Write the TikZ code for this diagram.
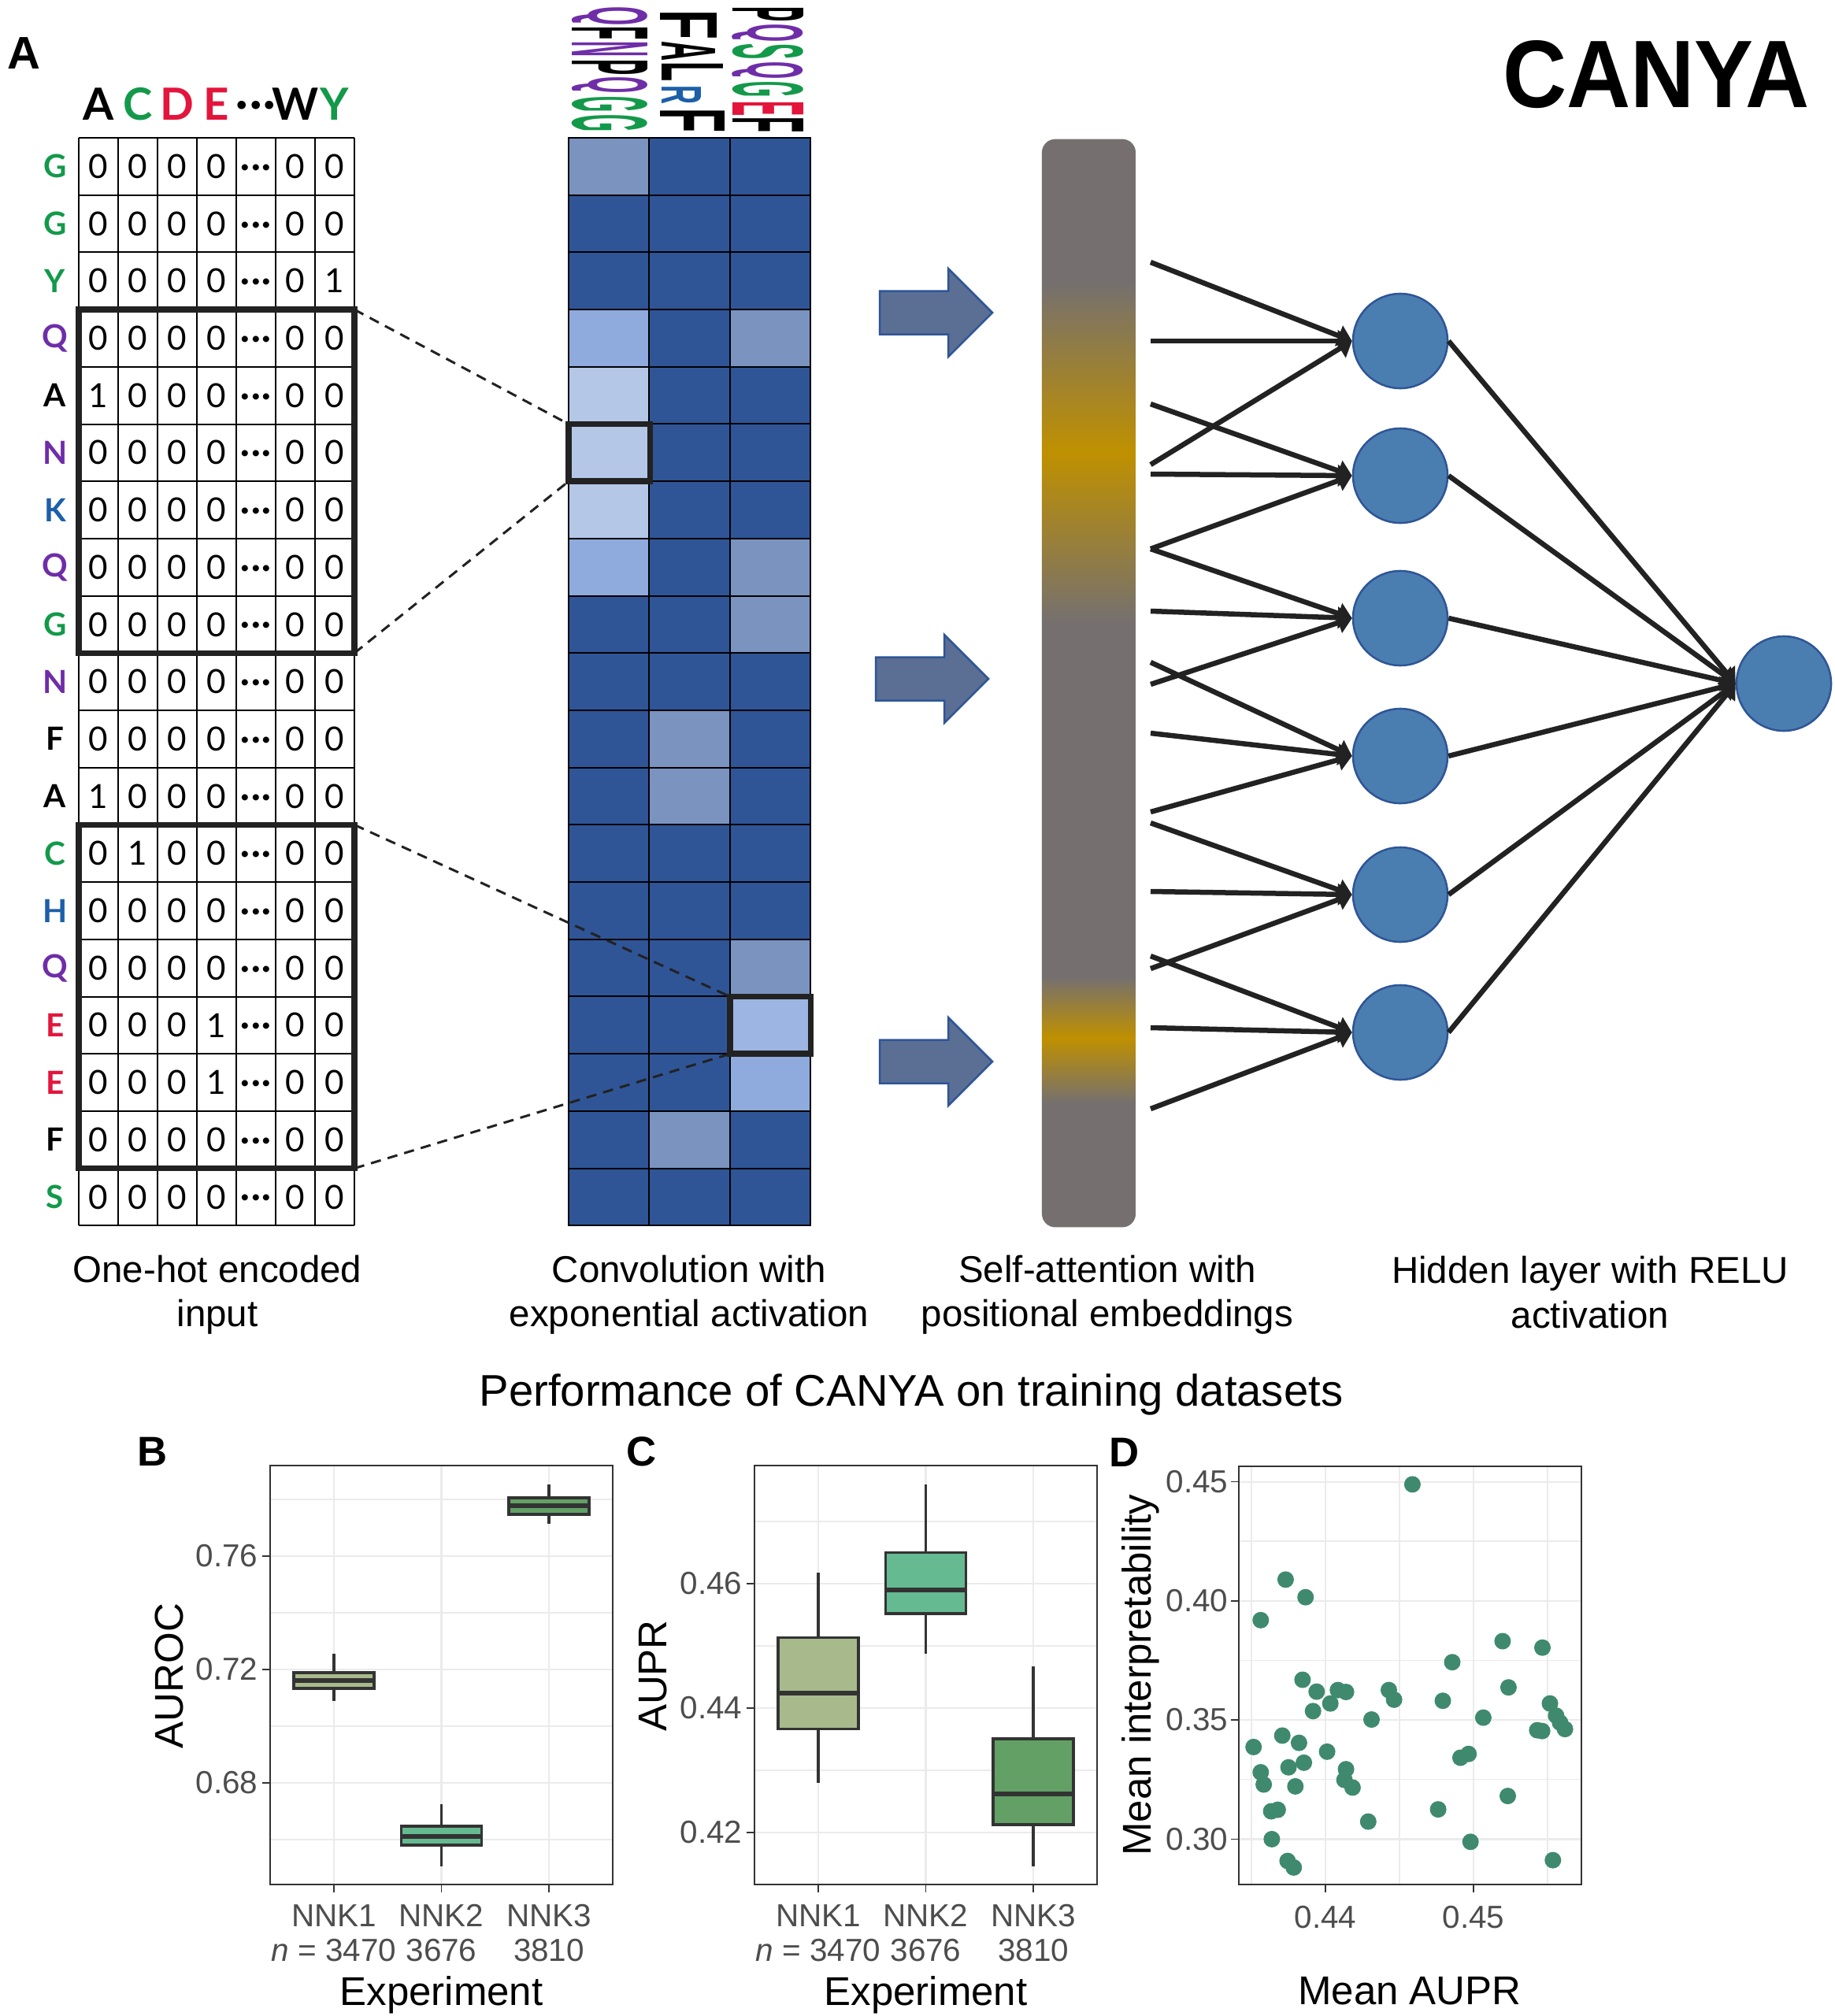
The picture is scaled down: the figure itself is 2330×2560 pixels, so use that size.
\documentclass[tikz,border=0pt]{standalone}
\usepackage{fontspec}
\setmainfont{Liberation Sans}
\newfontfamily\latof{Lato}
\usepackage{graphicx}
\usetikzlibrary{arrows.meta}
\definecolor{gG}{HTML}{13994A}
\definecolor{gP}{HTML}{6F2DA8}
\definecolor{gR}{HTML}{E3153C}
\definecolor{gB}{HTML}{1D5FA8}
\definecolor{hD}{HTML}{2F5597}
\definecolor{hM}{HTML}{7B93BF}
\definecolor{hML}{HTML}{8FAADC}
\definecolor{hMK}{HTML}{9DB5E3}
\definecolor{hL}{HTML}{B4C7E7}
\definecolor{nodeC}{HTML}{4A7EB0}
\definecolor{nodeB}{HTML}{2F5597}
\definecolor{arrF}{HTML}{5A6F93}
\definecolor{arrB}{HTML}{2F5597}
\definecolor{barG}{HTML}{75706F}
\definecolor{barY}{HTML}{BF9000}
\definecolor{bxA}{HTML}{A8BA8C}
\definecolor{bxB}{HTML}{65BA91}
\definecolor{bxC}{HTML}{62A065}
\definecolor{dotC}{HTML}{3F8A6E}
\definecolor{gridC}{HTML}{EBEBEB}
\definecolor{axC}{HTML}{333333}
\definecolor{tkC}{HTML}{4D4D4D}
\definecolor{lineC}{HTML}{222222}
\newdimen\pxu \pxu=0.01cm
\pgfdeclareverticalshading{barshade}{100bp}{color(0bp)=(barG); color(30.7bp)=(barG); color(33.7bp)=(barY); color(36.5bp)=(barG); color(52.8bp)=(barG); color(60.6bp)=(barY); color(68.4bp)=(barG); color(100bp)=(barG)}
\newcommand\mydots{\bfseries ·\kern0.6pt·\kern0.6pt·}
\newcommand\blkarrow[2]{\draw[blk] (#1,#2-27.5) -- (#1+87,#2-27.5) -- (#1+87,#2-56) -- (#1+143,#2) -- (#1+87,#2+56) -- (#1+87,#2+27.5) -- (#1,#2+27.5) -- cycle;}
\begin{document}
\begin{tikzpicture}[x=0.01cm,y=-0.01cm,
  cellnum/.style={font=\latof\fontsize{12}{12}\selectfont, inner sep=0},
  rowlab/.style={font=\latof\bfseries\fontsize{11.5}{11.5}\selectfont, inner sep=0},
  hdrlab/.style={font=\latof\bfseries\fontsize{16}{16}\selectfont, inner sep=0},
  thinline/.style={line width=0.02cm, black},
  boldbox/.style={line width=0.075cm, lineC},
  dashc/.style={dash pattern=on 0.13cm off 0.09cm, line width=0.03cm, lineC},
  hcell/.style={draw=black, line width=0.02cm, minimum width=1.023cm, minimum height=0.727cm, inner sep=0, outer sep=0},
  hnode/.style={circle, fill=nodeC, draw=nodeB, line width=0.025cm, minimum size=1.2cm, inner sep=0},
  conn/.style={line width=0.065cm, lineC, -{Triangle[length=0.18cm,width=0.27cm]}},
  blk/.style={fill=arrF, draw=arrB, line width=0.025cm, line join=miter},
  lab/.style={align=center, font=\fontsize{13.5}{16}\selectfont, inner sep=0},
  panlab/.style={font=\bfseries\fontsize{15}{15}\selectfont, inner sep=0},
  gmajor/.style={gridC, line width=0.022cm},
  gminor/.style={gridC, line width=0.011cm},
  frm/.style={axC, line width=0.016cm},
  tck/.style={axC, line width=0.016cm},
  whisk/.style={axC, line width=0.035cm},
  bxs/.style={draw=axC, line width=0.035cm},
  medl/.style={axC, line width=0.06cm},
  ticklab/.style={text=tkC, font=\fontsize{11.5}{13}\selectfont, inner sep=0},
  axtitle/.style={font=\fontsize{14.5}{16}\selectfont, inner sep=0},
  dotp/.style={fill=dotC}]
\useasboundingbox (0,0) rectangle (2330,2560);
\fill[white] (0,0) rectangle (2330,2560);

% ---------- panel A label and title
\node[font=\bfseries\fontsize{16.5}{16.5}\selectfont, inner sep=0] (pA) at (30,68) {A};
\node[inner sep=0] (canya) at (2103,95) {\resizebox{3.89cm}{0.85cm}{\bfseries CANYA}};

% ---------- one-hot grid
\foreach \k/\t/\c in {1/A/black,2/C/gG,3/D/gR,4/E/gR,6/W/black,7/Y/gG}
  \node[hdrlab,text=\c] (hd\k) at ({100+(\k-0.5)*50},132) {\t};
\node[hdrlab, anchor=base] (hd5) at (325,150) {\mydots};
\foreach \r/\l/\c/\p in {1/G/gG/0,2/G/gG/0,3/Y/gG/7,4/Q/gP/0,5/A/black/1,6/N/gP/0,7/K/gB/0,8/Q/gP/0,9/G/gG/0,10/N/gP/0,11/F/black/0,12/A/black/1,13/C/gG/2,14/H/gB/0,15/Q/gP/0,16/E/gR/4,17/E/gR/4,18/F/black/0,19/S/gG/0}{
  \pgfmathsetmacro\yc{175+(\r-0.5)*72.7}
  \node[rowlab,text=\c] (rl\r) at (70,\yc) {\l};
  \foreach \k in {1,2,3,4,6,7}{
    \pgfmathtruncatemacro\v{(\k==\p)?1:0}
    \node[cellnum] (c\r-\k) at ({100+(\k-0.5)*50},\yc) {\v};
  }
  \node[cellnum, anchor=base] (c\r-5) at (325,\yc+14) {\mydots};
}
\foreach \k in {0,...,7} \draw[thinline] ({100+50*\k},175) -- ({100+50*\k},1556.3);
\foreach \r in {0,...,19} \draw[thinline] (100,{175+72.7*\r}) -- (450,{175+72.7*\r});
\draw[boldbox] (100,393.1) rectangle (450,829.3);
\draw[boldbox] (100,1047.4) rectangle (450,1483.6);

% ---------- heatmap
\foreach \r/\hA/\hB/\hC in {1/hM/hD/hD,2/hD/hD/hD,3/hD/hD/hD,4/hML/hD/hM,5/hL/hD/hD,6/hL/hD/hD,7/hL/hD/hD,8/hML/hD/hM,9/hD/hD/hM,10/hD/hD/hD,11/hD/hM/hD,12/hD/hM/hD,13/hD/hD/hD,14/hD/hD/hD,15/hD/hD/hM,16/hD/hD/hMK,17/hD/hD/hML,18/hD/hM/hD,19/hD/hD/hD}{
  \pgfmathsetmacro\yc{175+(\r-0.5)*72.7}
  \node[hcell, fill=\hA] (hm\r-1) at (773.15,\yc) {};
  \node[hcell, fill=\hB] (hm\r-2) at (875.5,\yc) {};
  \node[hcell, fill=\hC] (hm\r-3) at (977.8,\yc) {};
}
\draw[boldbox] (722,538.5) rectangle (825.5,611.2);
\draw[boldbox] (927,1265.5) rectangle (1029.5,1338.2);

% ---------- dashed zoom connectors
\coordinate (g1a) at (450,393.1); \coordinate (g1b) at (450,829.3);
\coordinate (k1a) at (722,538.5); \coordinate (k1b) at (722,611.2);
\coordinate (g2a) at (450,1047.4); \coordinate (g2b) at (450,1483.6);
\coordinate (k2a) at (927,1265.5); \coordinate (k2b) at (927,1338.2);
\draw[dashc] (g1a) -- (k1a);
\draw[dashc] (g1b) -- (k1b);
\draw[dashc] (g2a) -- (k2a);
\draw[dashc] (g2b) -- (k2b);

% ---------- sequence logos (rotated)
\foreach \x/\y/\w/\h/\c/\l [count=\i] in {774/20/24/96/gP/Q, 774/41.5/17/96/black/F, 774/62/20/96/gP/N, 774/85/20/96/black/P, 774/107.5/21/96/gP/Q, 774/132/20/96/gG/G, 774/156/22/96/gG/G,
  874/31/38/72/black/F, 874/64.5/25/68/black/A, 879/90.5/25/78/black/L, 865/120/24/50/gB/R, 879/152.5/31/82/black/F,
  975/17.5/19/90/black/P, 975/41.5/23/90/gP/Q, 975/65/20/90/gG/S, 975/89/22/90/gP/Q, 975/113/20/90/gG/G, 975/137.5/19/90/gR/E, 975/158/20/90/black/F}
  \node[rotate=-90, inner sep=0, text=\c] (lg\i) at (\x,\y) {\resizebox*{\w\pxu}{\h\pxu}{\bfseries \l}};

% ---------- block arrows
\blkarrow{1117}{397}
\blkarrow{1112}{862}
\blkarrow{1117}{1348}

% ---------- self-attention bar
\node[shade, shading=barshade, rounded corners=0.17cm, minimum width=1.19cm, minimum height=13.81cm, inner sep=0] (bar) at (1382.5,867.5) {};

% ---------- hidden layer
\foreach \i/\yy in {1/433,2/604,3/785,4/960,5/1136,6/1311}
  \node[hnode] (h\i) at (1778,\yy) {};
\node[hnode] (out) at (2265,868) {};
\foreach \i/\yy in {1/333,2/433,3/513,4/590,5/602,6/697,7/776,8/841,9/869,10/931,11/1031,12/1045,13/1132,14/1214,15/1230,16/1305,17/1408}
  \coordinate (s\i) at (1461,\yy);
\foreach \s/\t in {1/1,2/1,4/1,3/2,5/2,6/2,6/3,7/3,9/3,8/4,10/4,11/4,12/5,13/5,15/5,14/6,16/6,17/6}
  \draw[conn] (s\s) -- (h\t.west);
\foreach \i in {1,...,6}
  \draw[conn] (h\i.east) -- (out.west);

% ---------- step labels
\node[lab] (lab1) at (276,1644) {One-hot encoded\\input};
\node[lab] (lab2) at (875,1644) {Convolution with\\exponential activation};
\node[lab] (lab3) at (1406,1644) {Self-attention with\\positional embeddings};
\node[lab] (lab4) at (2019,1641) {Hidden layer with RELU\\activation};
\node[font=\fontsize{16}{18}\selectfont, inner sep=0] (perf) at (1157,1771) {Performance of CANYA on training datasets};

% ---------- panel letters
\node[panlab] (pB) at (194,1843) {B};
\node[panlab] (pC) at (815,1843) {C};
\node[panlab] (pD) at (1428,1844) {D};

% ---------- panel B
\foreach \yy in {1904,2048,2192,2336} \draw[gminor] (343,\yy) -- (778,\yy);
\foreach \yy in {1976,2120,2264} \draw[gmajor] (343,\yy) -- (778,\yy);
\foreach \xx in {424,560.5,697} \draw[gmajor] (\xx,1861) -- (\xx,2393);
\draw[whisk] (424,2099.5) -- (424,2160);
\draw[bxs, fill=bxA] (373,2124) rectangle (475,2144);
\draw[medl] (373,2134) -- (475,2134);
\draw[whisk] (560.5,2291) -- (560.5,2370);
\draw[bxs, fill=bxB] (509.5,2319) rectangle (611.5,2343);
\draw[medl] (509.5,2332) -- (611.5,2332);
\draw[whisk] (697,1885) -- (697,1935);
\draw[bxs, fill=bxC] (646,1902) rectangle (748,1923);
\draw[medl] (646,1912) -- (748,1912);
\draw[frm] (343,1861) rectangle (778,2393);
\foreach \yy/\t [count=\i] in {1976/0.76,2120/0.72,2264/0.68}{
  \draw[tck] (333,\yy) -- (343,\yy);
  \node[ticklab, anchor=east] (by\i) at (328,\yy) {\t};
}
\foreach \xx/\t/\n [count=\i] in {424/NNK1/{\textit{n} = 3470},560.5/NNK2/3676,697/NNK3/3810}{
  \draw[tck] (\xx,2393) -- (\xx,2403);
  \node[ticklab, anchor=base] (bx\i) at (\xx,2446) {\t};
  \node[ticklab, anchor=base] (bn\i) at (\xx,2490) {\n};
}
\node[axtitle, anchor=base] (bxt) at (560.5,2546) {Experiment};
\node[axtitle, anchor=base, rotate=90] (byt) at (232,2128) {AUROC};

% ---------- panel C
\foreach \yy in {1932,2090,2248} \draw[gminor] (958,\yy) -- (1393,\yy);
\foreach \yy in {2011,2169,2327} \draw[gmajor] (958,\yy) -- (1393,\yy);
\foreach \xx in {1039,1175.5,1312} \draw[gmajor] (\xx,1861) -- (\xx,2393);
\draw[whisk] (1039,1997.4) -- (1039,2264.3);
\draw[bxs, fill=bxA] (988,2079.6) rectangle (1090,2195.4);
\draw[medl] (988,2149.5) -- (1090,2149.5);
\draw[whisk] (1175.5,1885) -- (1175.5,2099.5);
\draw[bxs, fill=bxB] (1124.5,1971.4) rectangle (1226.5,2049);
\draw[medl] (1124.5,2019.4) -- (1226.5,2019.4);
\draw[whisk] (1312,2116) -- (1312,2370);
\draw[bxs, fill=bxC] (1261,2208) rectangle (1363,2317);
\draw[medl] (1261,2278) -- (1363,2278);
\draw[frm] (958,1861) rectangle (1393,2393);
\foreach \yy/\t [count=\i] in {2011/0.46,2169/0.44,2327/0.42}{
  \draw[tck] (948,\yy) -- (958,\yy);
  \node[ticklab, anchor=east] (cy\i) at (943,\yy) {\t};
}
\foreach \xx/\t/\n [count=\i] in {1039/NNK1/{\textit{n} = 3470},1175.5/NNK2/3676,1312/NNK3/3810}{
  \draw[tck] (\xx,2393) -- (\xx,2403);
  \node[ticklab, anchor=base] (cx\i) at (\xx,2446) {\t};
  \node[ticklab, anchor=base] (cn\i) at (\xx,2490) {\n};
}
\node[axtitle, anchor=base] (cxt) at (1175.5,2546) {Experiment};
\node[axtitle, anchor=base, rotate=90] (cyt) at (846,2128) {AUPR};

% ---------- panel D
\foreach \yy in {1957,2108.5,2259.7} \draw[gminor] (1573,\yy) -- (2008,\yy);
\foreach \xx in {1589,1777,1965} \draw[gminor] (\xx,1862) -- (\xx,2393);
\foreach \yy in {1881.6,2033,2184,2335.4} \draw[gmajor] (1573,\yy) -- (2008,\yy);
\foreach \xx in {1683,1871} \draw[gmajor] (\xx,1862) -- (\xx,2393);
\foreach \px/\py in {1793.4/1884.9,1632.4/2005.8,1657.7/2028.2,1600.8/2057.3,1907.9/2084.0,1958.5/2092.2,1844.0/2110.7,1653.9/2133.0,1915.4/2142.7,1671.8/2148.1,1698.8/2146.1,1709.1/2148.5,1763.5/2146.1,1770.1/2158.3,1689.2/2163.1,1832.0/2159.7,1968.0/2163.1,1667.2/2172.8,1741.5/2183.5,1883.4/2181.1,1975.9/2178.6,1980.9/2187.4,1987.1/2195.6,1951.9/2197.1,1958.1/2198.1,1591.7/2218.4,1628.2/2203.9,1649.4/2213.1,1685.1/2224.3,1655.6/2238.3,1636.1/2244.2,1600.8/2250.5,1604.6/2266.0,1644.8/2268.4,1854.4/2232.0,1864.7/2227.2,1709.1/2246.6,1707.1/2260.2,1717.4/2269.9,1614.1/2300.0,1622.4/2298.1,1826.1/2297.6,1914.5/2280.6,1737.3/2313.1,1614.9/2335.4,1867.2/2338.8,1634.9/2363.1,1642.7/2371.4,1971.8/2362.1}
  \fill[dotp] (\px,\py) circle[radius=0.105cm];
\draw[frm] (1573,1862) rectangle (2008,2393);
\foreach \yy/\t [count=\i] in {1881.6/0.45,2033/0.40,2184/0.35,2335.4/0.30}{
  \draw[tck] (1563,\yy) -- (1573,\yy);
  \node[ticklab, anchor=east] (dy\i) at (1560,\yy) {\t};
}
\foreach \xx/\t [count=\i] in {1683/0.44,1871/0.45}{
  \draw[tck] (\xx,2393) -- (\xx,2403);
  \node[ticklab, anchor=base] (dx\i) at (\xx,2448) {\t};
}
\node[axtitle, anchor=base] (dxt) at (1790,2545) {Mean AUPR};
\node[axtitle, anchor=base, rotate=90] (dyt) at (1461,2127) {Mean interpretability};
\end{tikzpicture}
\end{document}
